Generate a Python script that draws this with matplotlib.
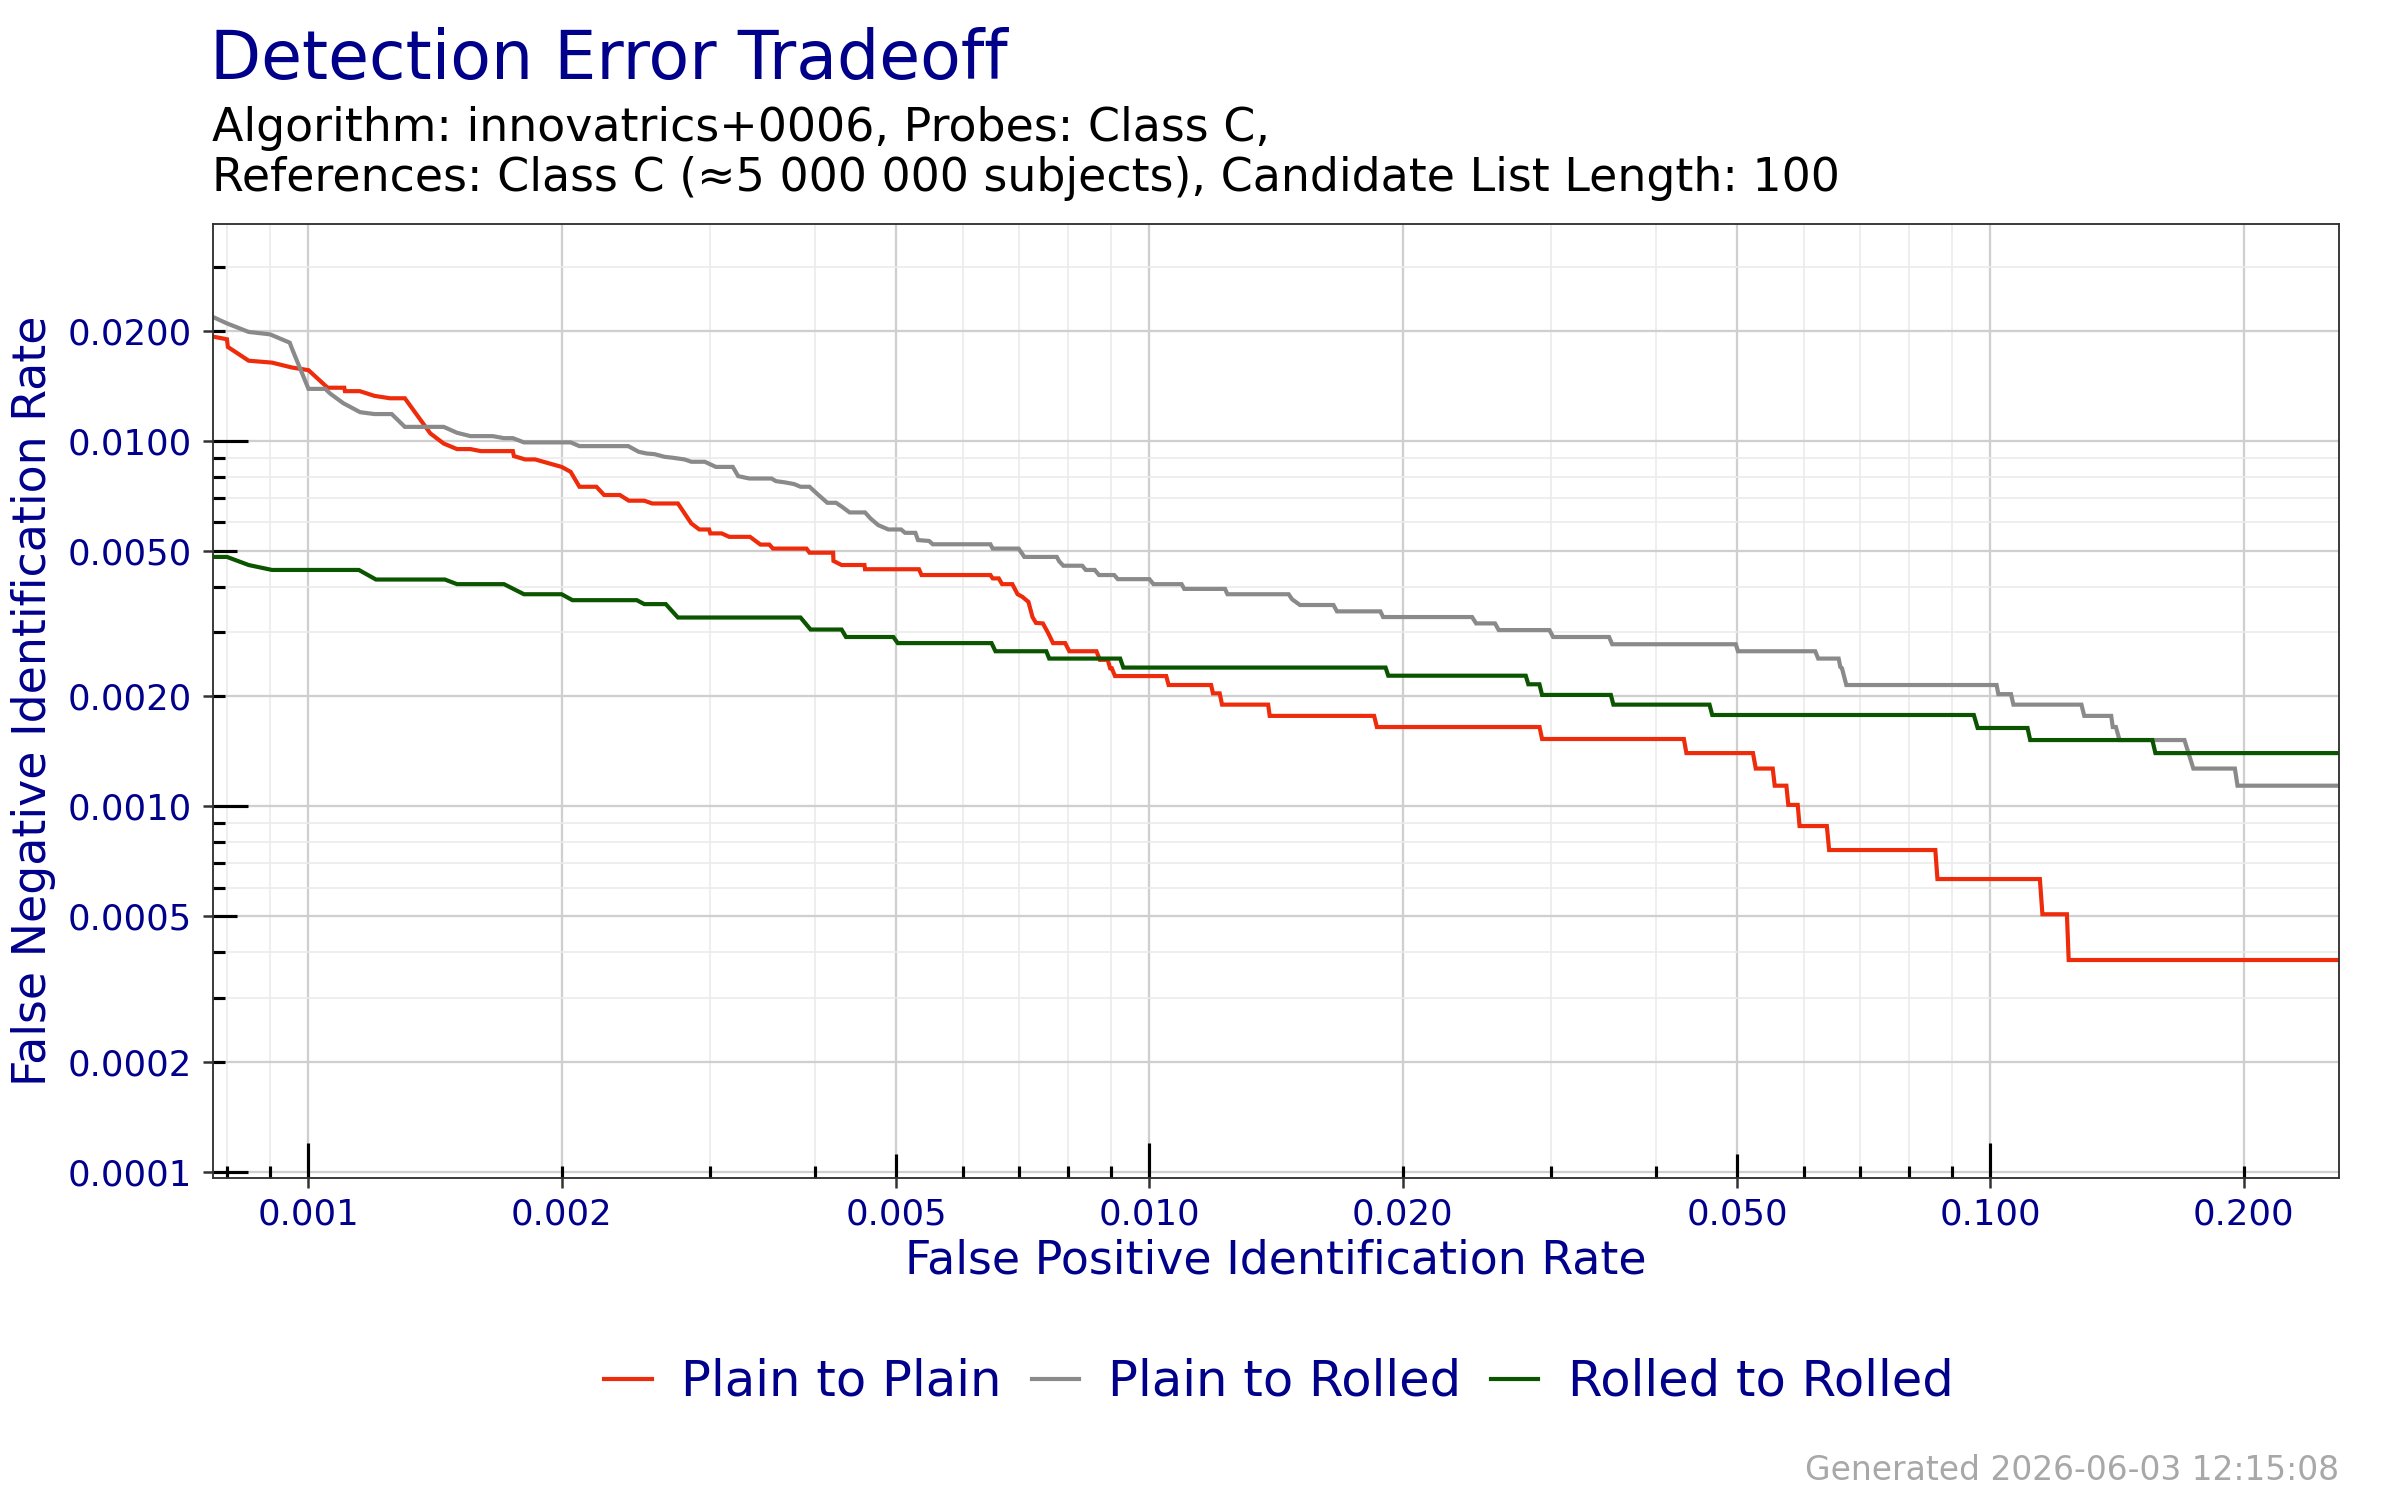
import matplotlib
matplotlib.use("Agg")
import matplotlib.pyplot as plt
from matplotlib.ticker import FixedLocator, FormatStrFormatter, NullFormatter

# DET curves (FPIR, FNIR)
labels = ["Plain to Plain", "Plain to Rolled", "Rolled to Rolled"]
colors = ["#EE2C0C", "#8A8A8A", "#0B5500"]

fpir_pp = [0.000772, 0.0008, 0.000802, 0.000849, 0.000905, 0.000956, 0.001, 0.001054, 0.001103,
           0.001105, 0.001151, 0.001198, 0.00125, 0.001302, 0.001396, 0.001448, 0.001502, 0.001558,
           0.001603, 0.00175, 0.001755, 0.00181, 0.00186, 0.002, 0.00205, 0.0021, 0.0022, 0.002247,
           0.002346, 0.002404, 0.002508, 0.002563, 0.00275, 0.002853, 0.002916, 0.002995, 0.003005,
           0.0031, 0.003165, 0.00335, 0.003447, 0.003532, 0.003567, 0.00391, 0.003943, 0.004206,
           0.00421, 0.004305, 0.004583, 0.00459, 0.005321, 0.005358, 0.00647, 0.00651, 0.00662,
           0.00668, 0.00687, 0.00697, 0.00706, 0.00718, 0.00726, 0.00733, 0.00747, 0.00758, 0.00768,
           0.00794, 0.00803, 0.00865, 0.00873, 0.00892, 0.00898, 0.00902, 0.0091, 0.01047, 0.01054,
           0.01184, 0.0119, 0.01212, 0.0122, 0.01384, 0.0139, 0.0185, 0.01864, 0.0291, 0.0293,
           0.0432, 0.0435, 0.0522, 0.0526, 0.0551, 0.0554, 0.0572, 0.0575, 0.0590, 0.0593, 0.0639,
           0.0643, 0.0860, 0.0865, 0.1145, 0.1153, 0.1233, 0.1239, 0.26]
fnir_pp = [0.0193, 0.0190, 0.0181, 0.0166, 0.0164, 0.0159, 0.01564, 0.0140, 0.0140,
           0.0137, 0.0137, 0.0133, 0.0131, 0.0131, 0.0105, 0.00985, 0.00951, 0.00951,
           0.00939, 0.00939, 0.0091, 0.00891, 0.00891, 0.0085, 0.00824, 0.0075, 0.0075, 0.00712,
           0.00712, 0.00687, 0.00687, 0.00675, 0.00675, 0.00595, 0.00573, 0.00573, 0.00559,
           0.00559, 0.00547, 0.00547, 0.00521, 0.00521, 0.00508, 0.00508, 0.00495, 0.00495,
           0.0047, 0.00458, 0.00458, 0.00446, 0.00446, 0.0043, 0.0043, 0.00421, 0.00421,
           0.00406, 0.00406, 0.00381, 0.00375, 0.00363, 0.0033, 0.00318, 0.00317, 0.00298, 0.0028,
           0.0028, 0.00266, 0.00266, 0.00252, 0.00252, 0.00239, 0.00239, 0.002275, 0.002275, 0.00215,
           0.00215, 0.00204, 0.00204, 0.0019, 0.0019, 0.00177, 0.00177, 0.00165, 0.00165, 0.00153,
           0.00153, 0.0014, 0.0014, 0.00127, 0.00127, 0.00114, 0.00114, 0.00101, 0.00101, 0.000884, 0.000884,
           0.00076, 0.00076, 0.000633, 0.000633, 0.000507, 0.000507, 0.00038, 0.00038]

fpir_pr = [0.000772, 0.0008, 0.000849, 0.0009, 0.00095, 0.000956, 0.001, 0.001047, 0.001061, 0.0011,
           0.001152, 0.001198, 0.001256, 0.001302, 0.001448, 0.001502, 0.001558, 0.001656, 0.001708,
           0.00175, 0.001804, 0.00205, 0.0021, 0.0024, 0.00247, 0.002524, 0.00258, 0.00265, 0.002716,
           0.0028, 0.002853, 0.00296, 0.003051, 0.003196, 0.003243, 0.003344, 0.003553, 0.003597,
           0.003686, 0.003779, 0.003847, 0.003943, 0.004041, 0.00414, 0.00424, 0.00431, 0.0044,
           0.00459, 0.00466, 0.004759, 0.004893, 0.005066, 0.005122, 0.005269, 0.005306, 0.00547,
           0.005525, 0.00647, 0.00651, 0.00699, 0.0071, 0.00776, 0.00781, 0.0079, 0.00832, 0.0084,
           0.00861, 0.00871, 0.00908, 0.00917, 0.01, 0.01011, 0.01092, 0.011, 0.0123, 0.01238,
           0.01464, 0.01478, 0.0151, 0.01655, 0.01671, 0.01882, 0.01896, 0.02419, 0.02446, 0.02576,
           0.02602, 0.0299, 0.0302, 0.0352, 0.0355, 0.0498, 0.0501, 0.0619, 0.0624, 0.0660, 0.0663,
           0.0666, 0.0674, 0.1017, 0.1022, 0.1058, 0.1065, 0.1283, 0.1293, 0.1392, 0.1398, 0.1410,
           0.1424, 0.1701, 0.1743, 0.1953, 0.1967, 0.26]
fnir_pr = [0.0218, 0.0210, 0.0199, 0.0196, 0.0186, 0.0179, 0.0139, 0.0139, 0.0135, 0.0127,
           0.0120, 0.01186, 0.01186, 0.01094, 0.01094, 0.01054, 0.01032, 0.01032, 0.01019,
           0.01019, 0.00992, 0.00992, 0.00969, 0.00969, 0.00935, 0.00925, 0.00921, 0.00906, 0.009,
           0.00891, 0.00878, 0.00878, 0.0085, 0.0085, 0.00802, 0.0079, 0.0079, 0.00777,
           0.00771, 0.00763, 0.0075, 0.0075, 0.00712, 0.00678, 0.00678, 0.00661, 0.00638,
           0.00638, 0.00614, 0.00589, 0.00573, 0.00573, 0.00561, 0.00561, 0.00536, 0.00533,
           0.00522, 0.00522, 0.00508, 0.00508, 0.00482, 0.00482, 0.00469, 0.00456, 0.00456, 0.00444,
           0.00444, 0.0043, 0.0043, 0.00419, 0.00419, 0.00406, 0.00406, 0.00394, 0.00394, 0.00381,
           0.00381, 0.00369, 0.00356, 0.00356, 0.00342, 0.00342, 0.0033, 0.0033, 0.00317, 0.00317,
           0.00304, 0.00304, 0.00291, 0.00291, 0.00278, 0.00278, 0.00266, 0.00266, 0.00254, 0.00254, 0.00241,
           0.00239, 0.00215, 0.00215, 0.00203, 0.00203, 0.0019, 0.0019, 0.00177, 0.00177, 0.00165, 0.00165,
           0.00152, 0.00152, 0.00127, 0.00127, 0.00114, 0.00114]

fpir_rr = [0.000772, 0.0008, 0.000849, 0.000905, 0.001148, 0.001203, 0.001453, 0.001502, 0.001708,
           0.001804, 0.002, 0.00206, 0.002457, 0.002508, 0.00266, 0.00275, 0.003847, 0.003954,
           0.004305, 0.004357, 0.00496, 0.00502, 0.00649, 0.00656, 0.00754, 0.0076, 0.00923, 0.00931,
           0.01909, 0.01923, 0.02802, 0.02822, 0.02909, 0.0293, 0.03537, 0.03562, 0.04634, 0.04669,
           0.09556, 0.09656, 0.1107, 0.1115, 0.1558, 0.1571, 0.26]
fnir_rr = [0.00482, 0.00482, 0.00458, 0.00444, 0.00444, 0.00418, 0.00418, 0.00406, 0.00406,
           0.00381, 0.00381, 0.00367, 0.00367, 0.00358, 0.00358, 0.00329, 0.00329, 0.00305,
           0.00305, 0.00291, 0.00291, 0.0028, 0.0028, 0.00266, 0.00266, 0.00254, 0.00254, 0.0024,
           0.0024, 0.00228, 0.00228, 0.00216, 0.00216, 0.00202, 0.00202, 0.0019, 0.0019, 0.00178,
           0.00178, 0.00164, 0.00164, 0.00152, 0.00152, 0.0014, 0.0014]

x_breaks = [0.001, 0.002, 0.005, 0.01, 0.02, 0.05, 0.1, 0.2]
y_breaks = [0.0001, 0.0002, 0.0005, 0.001, 0.002, 0.005, 0.01, 0.02]
xlim = (0.00077, 0.26)
ylim = (0.0000965, 0.0393)

navy = "#00008B"

def logticks(lo, hi):
    return [m * 10.0 ** k for k in range(-6, 1) for m in range(1, 10) if lo <= m * 10.0 ** k <= hi]

fig = plt.figure(figsize=(16, 10), dpi=150)
ax = fig.add_axes([0.08875, 0.215, 0.886, 0.6357])
ax.set_xscale("log")
ax.set_yscale("log")

for xs, ys, lab, col in zip([fpir_pp, fpir_pr, fpir_rr], [fnir_pp, fnir_pr, fnir_rr], labels, colors):
    ax.plot(xs, ys, color=col, lw=2.0, label=lab, solid_joinstyle="miter")

ax.set_xlim(*xlim)
ax.set_ylim(*ylim)

xt = logticks(*xlim)
yt = logticks(*ylim)
ax.xaxis.set_major_locator(FixedLocator(x_breaks))
ax.yaxis.set_major_locator(FixedLocator(y_breaks))
ax.xaxis.set_minor_locator(FixedLocator([v for v in xt if min(abs(v / b - 1) for b in x_breaks) > 1e-6]))
ax.yaxis.set_minor_locator(FixedLocator([v for v in yt if min(abs(v / b - 1) for b in y_breaks) > 1e-6]))
ax.xaxis.set_major_formatter(FormatStrFormatter("%.3f"))
ax.yaxis.set_major_formatter(FormatStrFormatter("%.4f"))
ax.xaxis.set_minor_formatter(NullFormatter())
ax.yaxis.set_minor_formatter(NullFormatter())

ax.grid(which="major", color="#CFCFCF", lw=1.1)
ax.grid(which="minor", color="#EBEBEB", lw=0.8)
ax.set_axisbelow(True)
ax.tick_params(which="minor", length=0)
ax.tick_params(axis="both", which="major", direction="out", length=4.8, width=1.2,
               color="#333333", labelcolor=navy, labelsize=17)
ax.tick_params(axis="x", pad=4.6)
ax.tick_params(axis="y", pad=5.4)
for s in ax.spines.values():
    s.set_color("#333333")
    s.set_linewidth(0.9)

# log ticks drawn inside the panel (long at 10^k, medium at 5*10^k)
def ticksize(v):
    m = round(v / 10.0 ** round(float(f"{v:e}".split("e")[1])))
    return 16.8 if m == 1 else (11.4 if m == 5 else 5.9)

for v in xt:
    ax.plot([v], [0], transform=ax.get_xaxis_transform(), marker=2, ms=ticksize(v),
            mew=1.5, color="black", ls="none", clip_on=False)
for v in yt:
    ax.plot([0], [v], transform=ax.get_yaxis_transform(), marker=1, ms=ticksize(v),
            mew=1.5, color="black", ls="none", clip_on=False)

fig.text(0.0873, 0.9473, "Detection Error Tradeoff", fontsize=32, color=navy, va="baseline")
fig.text(0.0885, 0.9062, "Algorithm: innovatrics+0006, Probes: Class C,", fontsize=22,
         color="black", va="baseline")
fig.text(0.0885, 0.8729, "References: Class C (\u22485 000 000 subjects), Candidate List Length: 100",
         fontsize=22, color="black", va="baseline")

fig.text(0.5317, 0.1507, "False Positive Identification Rate", fontsize=22, color=navy,
         ha="center", va="baseline")
fig.text(0.0139, 0.5328, "False Negative Identification Rate", fontsize=22, color=navy,
         ha="center", va="center", rotation=90)

handles, labs = ax.get_legend_handles_labels()
fig.legend(handles, labs, loc="center", bbox_to_anchor=(0.533, 0.0787), ncol=3, frameon=False,
           fontsize=23.8, handlelength=0.95, handletextpad=0.6, columnspacing=0.6, labelcolor=navy)

fig.text(0.9746, 0.0133, "Generated 2026-06-03 12:15:08", fontsize=15.8, color="#A8A8A8",
         ha="right", va="baseline")

fig.savefig("out.png", dpi=150)
